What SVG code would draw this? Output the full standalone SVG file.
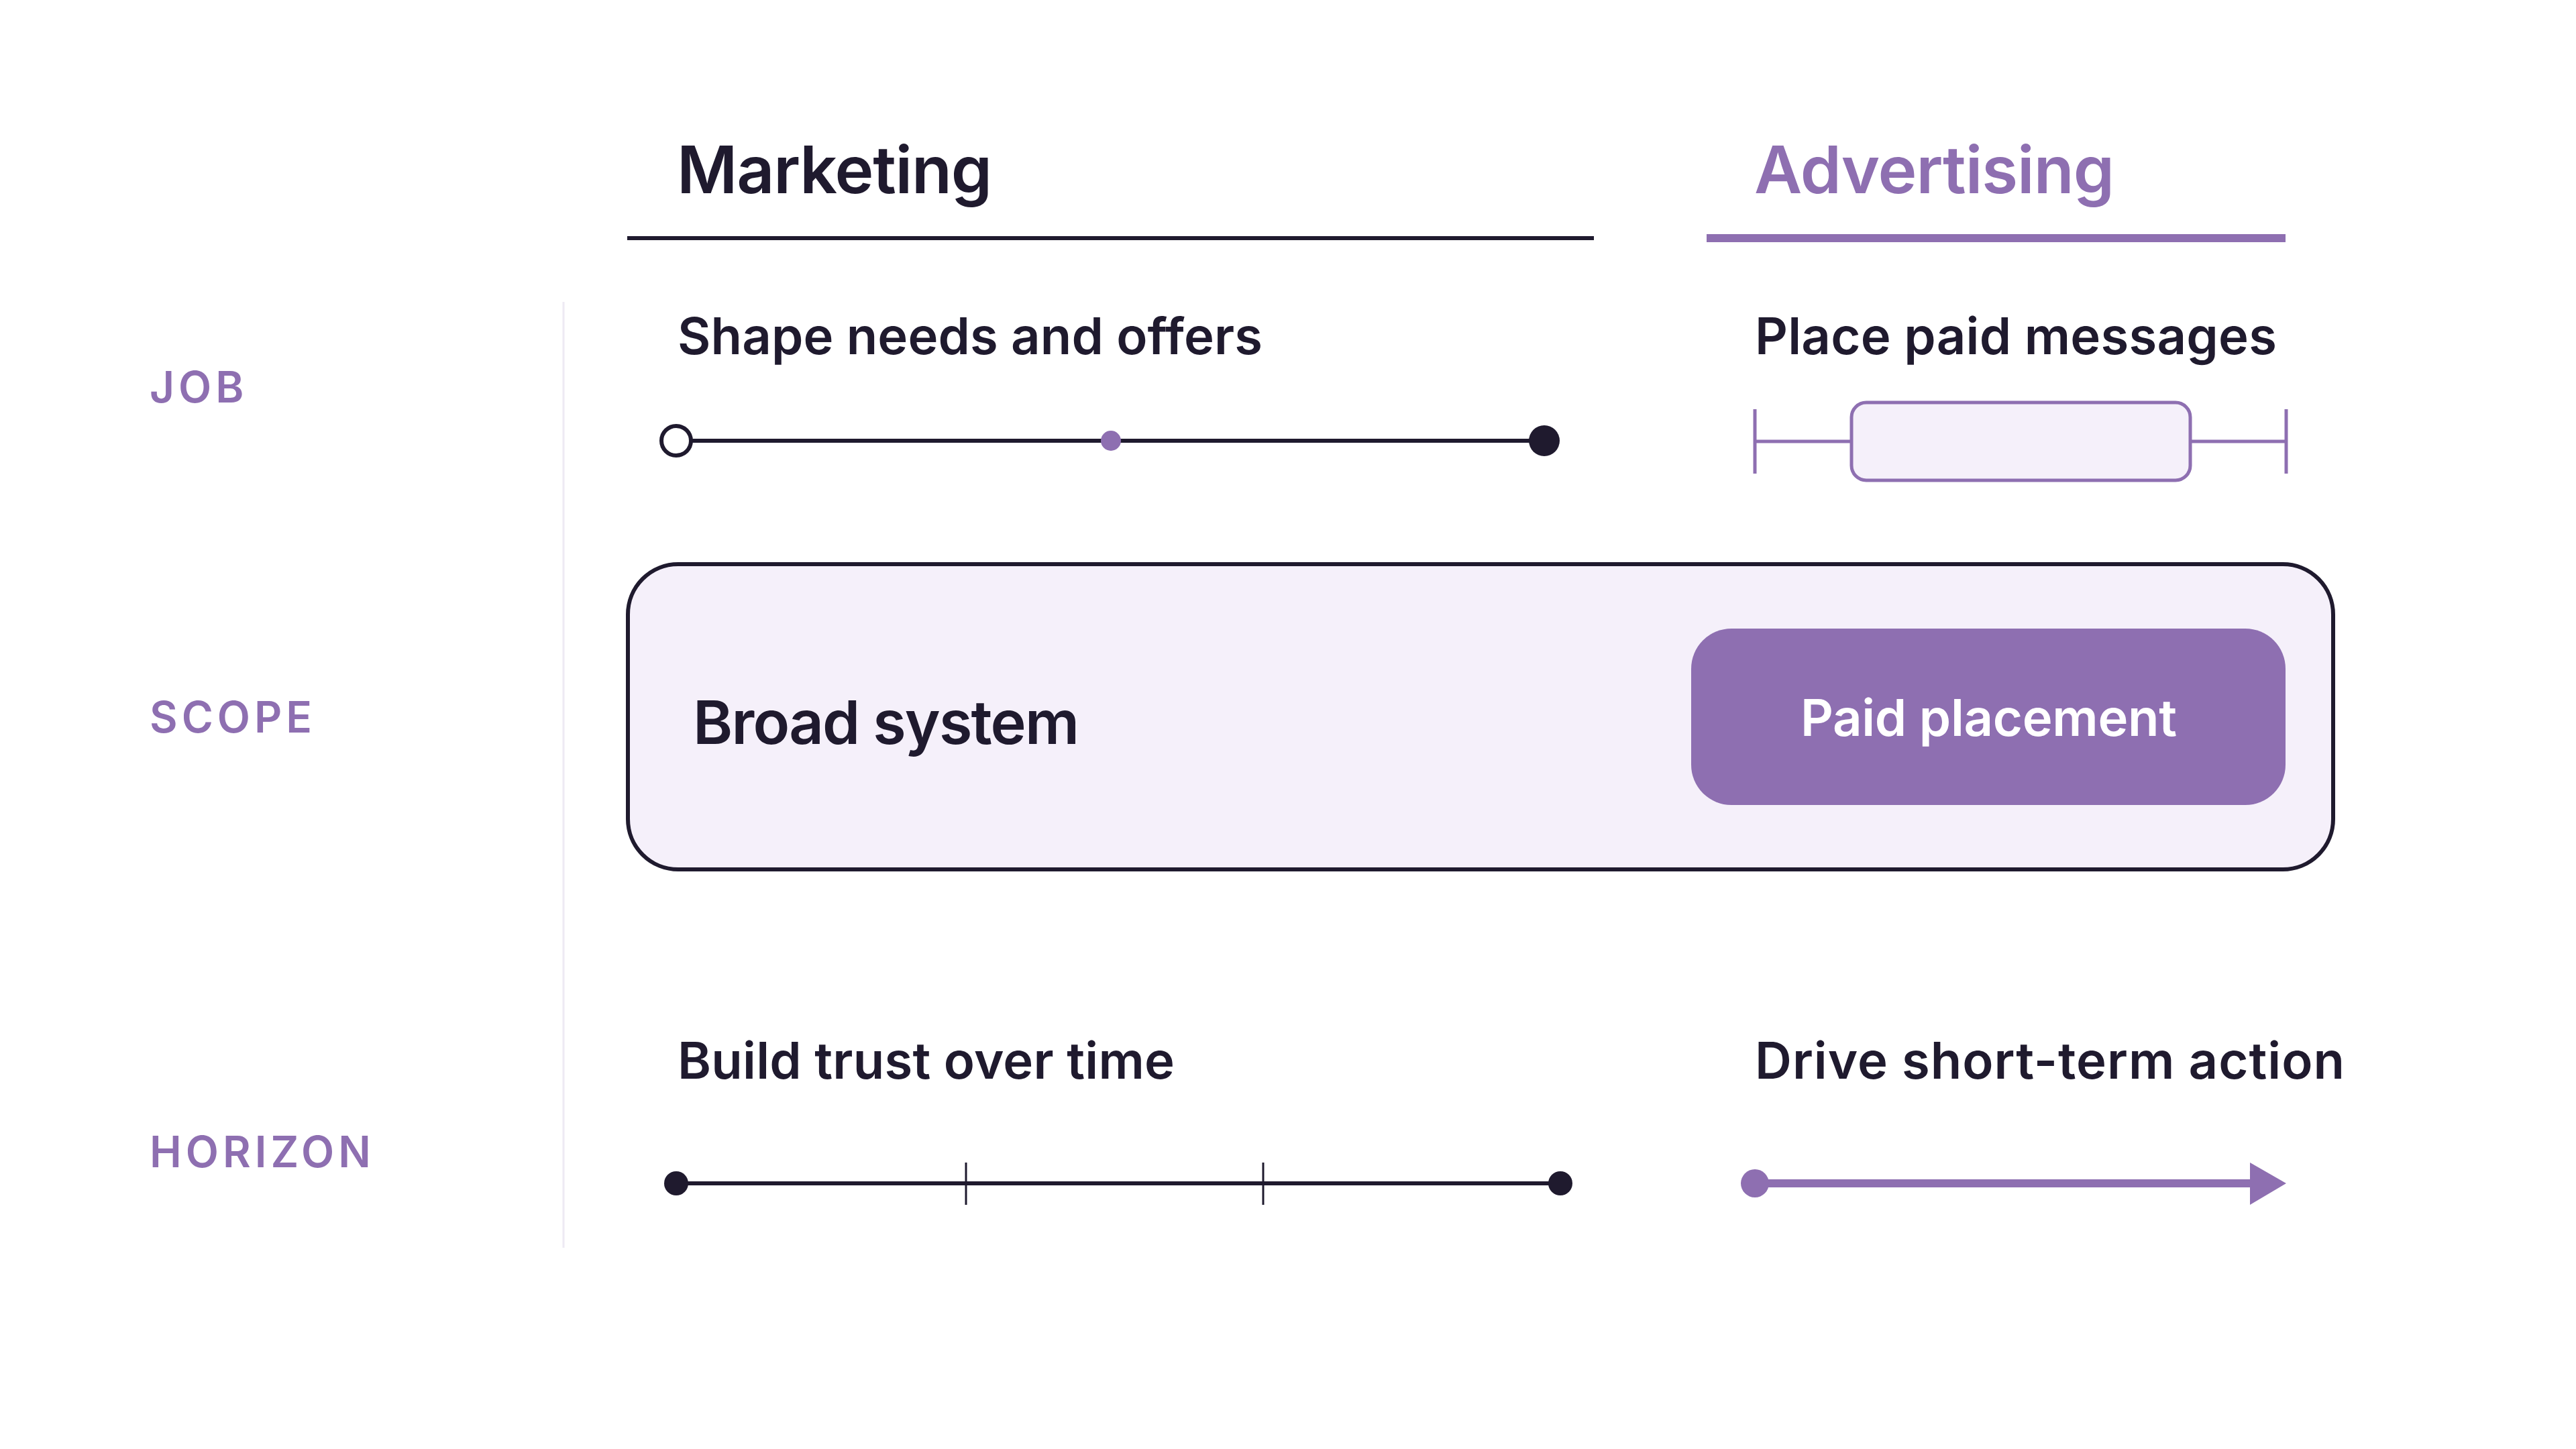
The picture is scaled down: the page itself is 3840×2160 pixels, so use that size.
<svg xmlns="http://www.w3.org/2000/svg" width="3840" height="2160" viewBox="0 0 3840 2160">
<style>
.h{font-family:Inter,"Noto Sans",sans-serif;font-weight:600;}
.dark{fill:#1F1A2E;}
.pur{fill:#8E6FB1;}
.lab{font-family:Inter,"Noto Sans",sans-serif;font-weight:600;fill:#8E6FB1;font-size:64px;letter-spacing:6px;}
.sub{font-size:76px;}
</style>
<rect width="3840" height="2160" fill="#FFFFFF"/>
<g id="row-labels">
<text class="lab" x="223" y="600">JOB</text>
<text class="lab" x="223" y="1092">SCOPE</text>
<text class="lab" x="223" y="1740">HORIZON</text>
<line x1="840" y1="450" x2="840" y2="1860" stroke="#EEEAF4" stroke-width="3"/>
</g>
<g id="marketing-header">
<text class="h dark" x="1009" y="288" font-size="98" textLength="470" lengthAdjust="spacing">Marketing</text>
<line x1="935" y1="355" x2="2376" y2="355" stroke="#1F1A2E" stroke-width="6"/>
</g>
<g id="advertising-header">
<text class="h pur" x="2615" y="288" font-size="98" textLength="537" lengthAdjust="spacing">Advertising</text>
<line x1="2544" y1="355" x2="3407" y2="355" stroke="#8E6FB1" stroke-width="12"/>
</g>
<g id="job-marketing">
<text class="h dark sub" x="1010" y="528" textLength="872" lengthAdjust="spacing">Shape needs and offers</text>
<line x1="1008" y1="657" x2="2302" y2="657" stroke="#1F1A2E" stroke-width="6"/>
<circle cx="1008" cy="657" r="22" fill="#FFFFFF" stroke="#1F1A2E" stroke-width="6"/>
<circle cx="1656" cy="657" r="15" fill="#8E6FB1"/>
<circle cx="2302" cy="657" r="23" fill="#1F1A2E"/>
</g>
<g id="job-advertising">
<text class="h dark sub" x="2616" y="528" textLength="778" lengthAdjust="spacing">Place paid messages</text>
<line x1="2616" y1="610" x2="2616" y2="706" stroke="#8E6FB1" stroke-width="5"/>
<line x1="3408" y1="610" x2="3408" y2="706" stroke="#8E6FB1" stroke-width="5"/>
<line x1="2616" y1="658" x2="2760" y2="658" stroke="#8E6FB1" stroke-width="5"/>
<line x1="3265" y1="658" x2="3408" y2="658" stroke="#8E6FB1" stroke-width="5"/>
<rect x="2760" y="600" width="505" height="116" rx="22" fill="#F5F0FA" stroke="#8E6FB1" stroke-width="5"/>
</g>
<g id="scope-broad">
<rect x="936" y="841" width="2542" height="455" rx="75" fill="#F5F0FA" stroke="#1F1A2E" stroke-width="6"/>
<text class="h dark" x="1033" y="1109" font-size="90" textLength="576" lengthAdjust="spacing">Broad system</text>
</g>
<g id="scope-paid">
<rect x="2521" y="937" width="886" height="263" rx="60" fill="#8E6FB1"/>
<text class="h" x="2684" y="1097" font-size="76" fill="#FFFFFF" textLength="561" lengthAdjust="spacing">Paid placement</text>
</g>
<g id="horizon-marketing">
<text class="h dark sub" x="1010" y="1608" textLength="741" lengthAdjust="spacing">Build trust over time</text>
<line x1="1008" y1="1764" x2="2326" y2="1764" stroke="#1F1A2E" stroke-width="6"/>
<line x1="1440" y1="1733" x2="1440" y2="1796" stroke="#1F1A2E" stroke-width="3"/>
<line x1="1883" y1="1733" x2="1883" y2="1796" stroke="#1F1A2E" stroke-width="3"/>
<circle cx="1008" cy="1764" r="18" fill="#1F1A2E"/>
<circle cx="2326" cy="1764" r="18" fill="#1F1A2E"/>
</g>
<g id="horizon-advertising">
<text class="h dark sub" x="2616" y="1608" textLength="879" lengthAdjust="spacing">Drive short-term action</text>
<line x1="2616" y1="1764" x2="3360" y2="1764" stroke="#8E6FB1" stroke-width="12"/>
<circle cx="2616" cy="1764" r="21" fill="#8E6FB1"/>
<polygon points="3354,1733 3408,1764 3354,1796" fill="#8E6FB1"/>
</g>
</svg>
